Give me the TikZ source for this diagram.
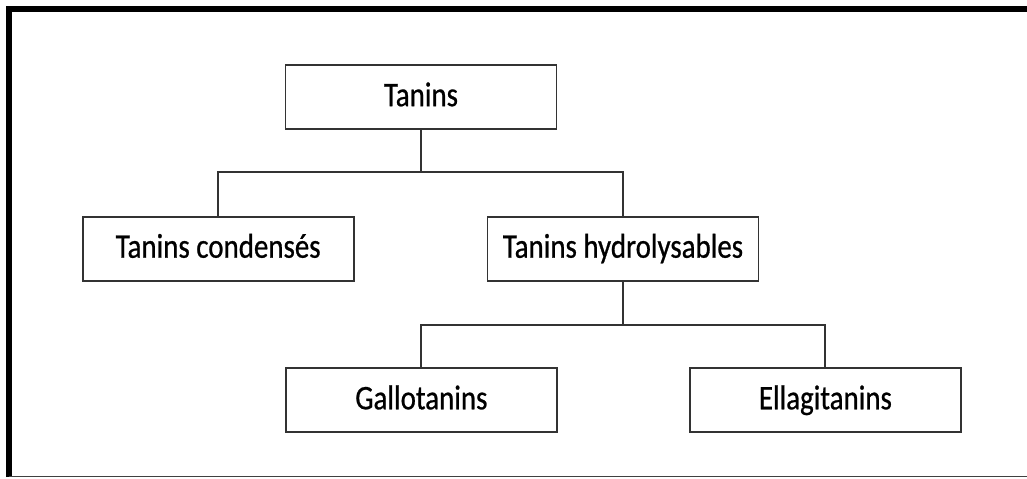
\documentclass[tikz,border=0pt]{standalone}
\usepackage{fontspec}
\newfontfamily\boxfont[FakeStretch=0.84,FakeBold=0.7]{Carlito}
\usepackage{tikz}
\usetikzlibrary{positioning}

\begin{document}
\begin{tikzpicture}[
        node distance=2.14cm,
        box/.style={rectangle, draw=black!80, line width=1.4pt, fill=white,
          minimum width=6.775cm, minimum height=1.6cm, inner sep=0pt,
          text height=17.5pt, text depth=4.5pt,
          font=\boxfont\fontsize{24.5}{27}\selectfont},
        link/.style={draw=black!80, line width=1.4pt}
      ]
        \useasboundingbox (-10.525,2.425) rectangle (15.15,-9.525);
        % frame
        \draw[line width=4.3pt] (-10.3,-9.5) -- (-10.3,2.2) -- (15.2,2.2);
        \draw[black!75, line width=1.2pt] (-10.3,-9.49) -- (15.2,-9.49);

        \node (tanins) [box] {Tanins};

        \node (cond) [below=of tanins, box, xshift=-5.07cm] {Tanins condensés};
        \node (hydro) [below=of tanins, box, xshift=5.05cm] {Tanins hydrolysables};

        \node (gallo) [below=of hydro, box, xshift=-5.04cm] {Gallotanins};
        \node (ellag) [below=of hydro, box, xshift=5.06cm] {Ellagitanins};

        \draw[link] (tanins.south) -- ++(0,-1.06) coordinate (split1);
        \draw[link] (cond.north) |- (split1) -| (hydro.north);
        \draw[link] (hydro.south) -- ++(0,-1.08) coordinate (split2);
        \draw[link] (gallo.north) |- (split2) -| (ellag.north);

      \end{tikzpicture}
\end{document}
